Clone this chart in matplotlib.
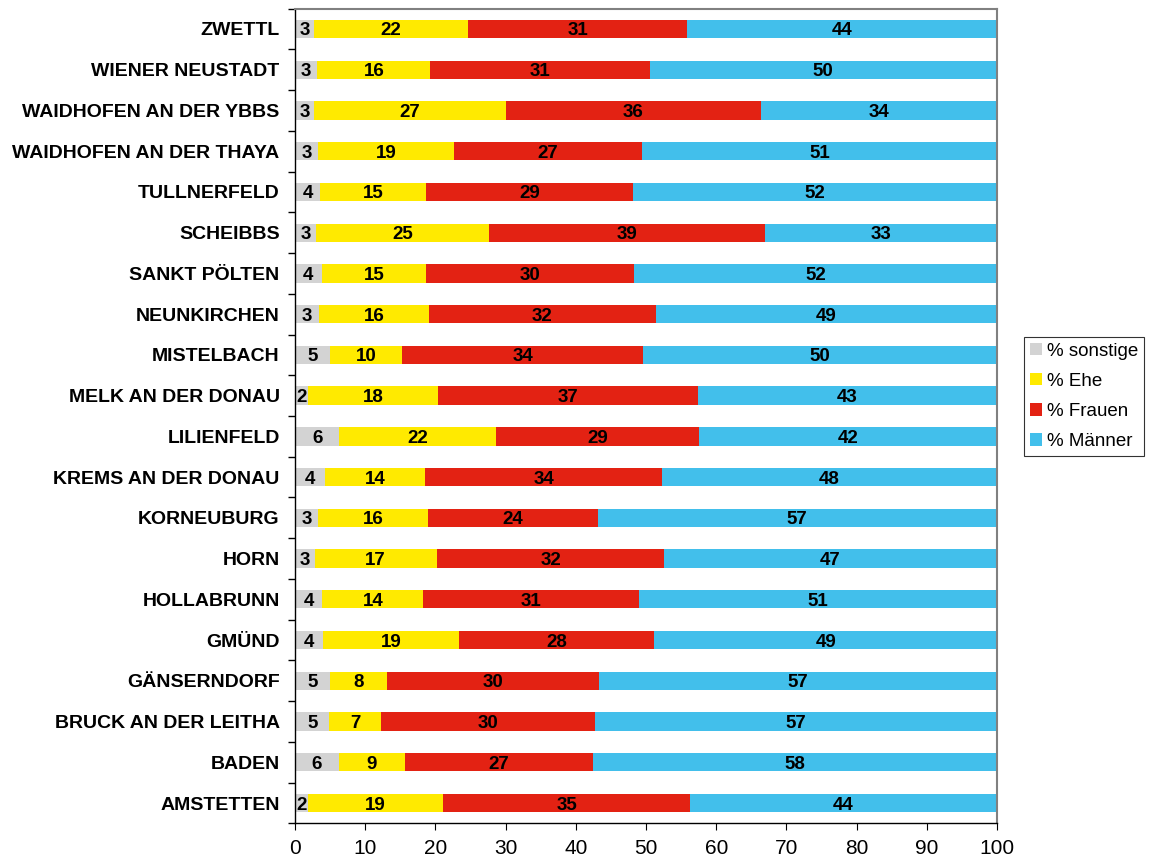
import numpy as np
import matplotlib.pyplot as plt
from matplotlib.ticker import MultipleLocator, FixedLocator

districts = ["ZWETTL", "WIENER NEUSTADT", "WAIDHOFEN AN DER YBBS", "WAIDHOFEN AN DER THAYA",
             "TULLNERFELD", "SCHEIBBS", "SANKT PÖLTEN", "NEUNKIRCHEN", "MISTELBACH",
             "MELK AN DER DONAU", "LILIENFELD", "KREMS AN DER DONAU", "KORNEUBURG", "HORN",
             "HOLLABRUNN", "GMÜND", "GÄNSERNDORF", "BRUCK AN DER LEITHA", "BADEN", "AMSTETTEN"]

sonstige = [2.7, 3.2, 2.7, 3.3, 3.6, 3.0, 3.8, 3.4, 5.0, 1.9,
            6.3, 4.3, 3.3, 2.8, 3.9, 4.0, 5.0, 4.9, 6.2, 1.9]
ehe = [22.0, 16.1, 27.3, 19.4, 15.1, 24.6, 14.9, 15.7, 10.3, 18.4,
       22.4, 14.2, 15.7, 17.4, 14.4, 19.3, 8.1, 7.4, 9.4, 19.2]
frauen = [31.2, 31.2, 36.4, 26.7, 29.4, 39.3, 29.6, 32.3, 34.3, 37.1,
          28.9, 33.8, 24.1, 32.4, 30.7, 27.9, 30.2, 30.5, 26.8, 35.2]
maenner = [44.1, 49.5, 33.6, 50.6, 51.9, 33.1, 51.7, 48.6, 50.4, 42.6,
           42.4, 47.7, 56.9, 47.4, 51.0, 48.8, 56.7, 57.2, 57.6, 43.7]

series = [("% sonstige", sonstige, "#D3D3D3"),
          ("% Ehe", ehe, "#FFEA00"),
          ("% Frauen", frauen, "#E32213"),
          ("% Männer", maenner, "#42BFEB")]

plt.rcParams['font.family'] = ['Liberation Sans', 'DejaVu Sans']

fig = plt.figure(figsize=(11.51, 8.63), dpi=100)
ax = fig.add_axes([0.2563, 0.0459, 0.6099, 0.9441])

y = np.arange(len(districts))[::-1]
left = np.zeros(len(districts))
for name, vals, col in series:
    vals = np.array(vals)
    ax.barh(y, vals, left=left, height=0.45, color=col, label=name)
    for yi, l, v in zip(y, left, vals):
        ax.text(l + v / 2, yi, "%d" % round(v), ha="center", va="center_baseline",
                fontsize=13.5, fontweight="bold")
    left += vals

ax.set_xlim(0, 100)
ax.set_ylim(-0.5, len(districts) - 0.5)
ax.xaxis.set_major_locator(MultipleLocator(10))
ax.set_yticks(y)
ax.set_yticklabels(districts, fontsize=14, fontweight="bold")
ax.yaxis.set_minor_locator(FixedLocator(np.arange(-0.5, len(districts), 1)))
ax.tick_params(axis="y", which="major", length=0, pad=11)
ax.tick_params(axis="y", which="minor", length=5, width=1)
ax.tick_params(axis="x", length=5, labelsize=15, pad=6)

for s in ["top", "right"]:
    ax.spines[s].set_color("#808080")
    ax.spines[s].set_linewidth(1.5)
for s in ["left", "bottom"]:
    ax.spines[s].set_color("black")
    ax.spines[s].set_linewidth(1)

leg = fig.legend(loc="upper left", bbox_to_anchor=(1024 / 1151, 1 - 337 / 863),
                 borderaxespad=0, fontsize=13.5, frameon=True, fancybox=False,
                 edgecolor="black", handlelength=0.65, handleheight=0.65,
                 handletextpad=0.3, labelspacing=0.7, borderpad=0.3)
leg.get_frame().set_linewidth(0.8)

fig.savefig("out.png", dpi=100)
